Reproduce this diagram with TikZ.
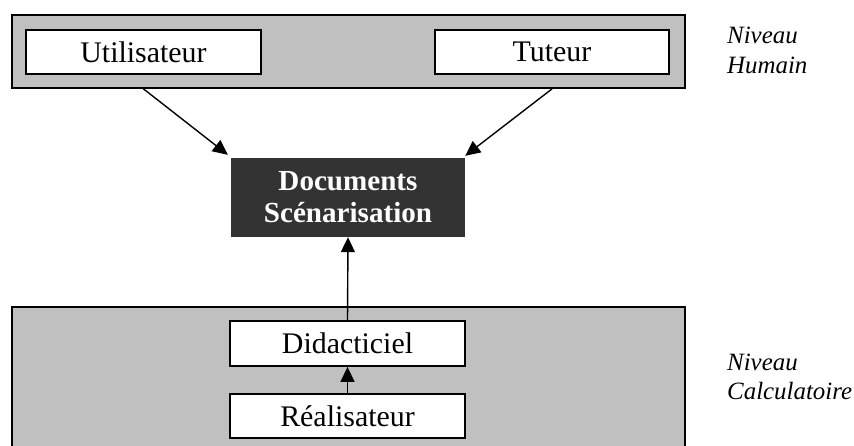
\documentclass[tikz,border=0pt]{standalone}
\usepackage{fontspec}
\setmainfont{Liberation Serif}
\usetikzlibrary{arrows.meta,calc}
\definecolor{panelgrey}{HTML}{C0C0C0}
\definecolor{darkbox}{HTML}{333333}
\begin{document}
\begin{tikzpicture}[x=1pt,y=-1pt,
  panel/.style={draw=black,line width=1.8pt,fill=panelgrey,inner sep=0pt},
  wbox/.style={draw=black,line width=1.8pt,fill=white,inner sep=0pt,
    font=\fontsize{29.9}{32}\selectfont},
  dbox/.style={fill=darkbox,text=white,inner sep=0pt,align=center,
    font=\fontsize{29.1}{32}\selectfont\bfseries},
  lvl/.style={align=left,inner sep=0pt,anchor=west,
    font=\fontsize{24.9}{29.5}\selectfont\itshape},
  arr/.style={line width=1.4pt,-{Triangle[length=15pt,width=14pt]}}]
\useasboundingbox (0,0) rectangle (854,446);
\clip (0,0) rectangle (854,446);
% top panel
\node[panel,minimum width=673pt,minimum height=73pt] (hum) at (348.5,51.5) {};
\node[wbox,minimum width=235pt,minimum height=44pt] (ut) at (143.5,52) {Utilisateur};
\node[wbox,minimum width=234pt,minimum height=44pt] (tu) at (552,52) {Tuteur};
% bottom panel
\node[panel,minimum width=673pt,minimum height=160pt,anchor=north] (calc) at (348.5,306) {};
\node[wbox,minimum width=235pt,minimum height=45pt] (did) at (347.5,343.5) {Didacticiel};
\node[wbox,minimum width=235pt,minimum height=44pt] (rea) at (347.5,416) {Réalisateur};
% central box
\node[dbox,minimum width=234pt,minimum height=79pt] (doc) at (348,197.5) {Documents\\Scénarisation};
% level labels
\node[lvl] (lh) at (727,50.5) {Niveau\\Humain};
\node[lvl] (lc) at (727,377) {Niveau\\Calculatoire};
% connectors
\coordinate (a1) at (ut |- hum.south);
\coordinate (a2) at (tu |- hum.south);
\coordinate (e1) at ($(doc.north west)+(-3,-3)$);
\coordinate (e2) at ($(doc.north east)+(0,-2)$);
\draw[arr] (a1) -- (e1);
\draw[arr] (a2) -- (e2);
\draw[arr] (did.north) -- (doc.south);
\draw[arr] (rea.north) -- (did.south);
\end{tikzpicture}
\end{document}
